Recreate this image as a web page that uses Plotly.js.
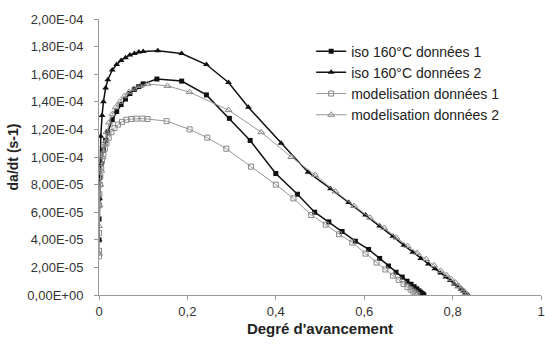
<!DOCTYPE html>
<html><head><meta charset="utf-8">
<script src="https://cdn.plot.ly/plotly-3.0.1.min.js"></script>
<style>html,body{margin:0;padding:0;background:#fff}#c{width:545px;height:345px}</style>
</head><body><div id="c"></div>
<script>
const names = ["iso 160°C données 1","iso 160°C données 2","modelisation données 1","modelisation données 2"];
const iso1X = [0,0,0,0.002,0.005,0.01,0.015,0.02,0.03,0.04,0.05,0.06,0.07,0.08,0.09,0.1,0.131,0.187,0.243,0.295,0.342,0.40,0.449,0.488,0.52,0.55,0.58,0.61,0.635,0.655,0.672,0.686,0.697,0.706,0.713,0.719,0.724,0.728,0.731,0.733,0.735];
const iso1Y = [4.0,5.5,7.0,8.5,9.5,10.5,11.2,11.8,12.7,13.3,13.8,14.2,14.6,14.9,15.1,15.3,15.65,15.5,14.5,12.8,11.2,8.8,7.3,6.0,5.3,4.6,3.9,3.3,2.65,2.1,1.65,1.3,1.0,0.78,0.6,0.45,0.3,0.2,0.1,0.05,0.0];
const iso2X = [0,0.001,0.002,0.004,0.007,0.01,0.015,0.02,0.03,0.04,0.05,0.06,0.07,0.08,0.09,0.1,0.133,0.187,0.243,0.293,0.338,0.412,0.473,0.524,0.565,0.603,0.635,0.665,0.69,0.71,0.728,0.745,0.76,0.773,0.785,0.795,0.804,0.812,0.819,0.825,0.829,0.832,0.835];
const iso2Y = [4,7,9.5,11.5,13,14,15,15.6,16.3,16.7,17,17.2,17.4,17.5,17.6,17.65,17.7,17.5,16.7,15.4,13.6,11.0,8.9,7.7,6.7,5.8,5.0,4.25,3.6,3.1,2.65,2.25,1.9,1.6,1.3,1.05,0.8,0.6,0.42,0.27,0.16,0.08,0];
const mod1X = [0,0,0,0,0,0.001,0.002,0.003,0.005,0.007,0.01,0.013,0.017,0.022,0.028,0.035,0.043,0.052,0.062,0.073,0.085,0.098,0.11,0.153,0.205,0.245,0.288,0.344,0.40,0.44,0.48,0.513,0.543,0.573,0.603,0.628,0.648,0.665,0.678,0.689,0.698,0.705,0.711,0.716,0.72];
const mod1Y = [2.8,3.2,4.5,5.5,6.5,7.3,8.0,8.6,9.2,9.7,10.2,10.6,11.0,11.4,11.8,12.1,12.35,12.55,12.7,12.75,12.78,12.78,12.75,12.6,12.0,11.4,10.6,9.3,8.0,7.0,5.8,5.1,4.4,3.8,3.0,2.35,1.85,1.4,1.1,0.8,0.57,0.4,0.25,0.12,0.0];
const mod2X = [0,0,0.001,0.003,0.005,0.008,0.012,0.017,0.023,0.03,0.038,0.047,0.057,0.068,0.08,0.093,0.11,0.155,0.205,0.293,0.367,0.435,0.489,0.535,0.577,0.613,0.645,0.673,0.698,0.72,0.74,0.758,0.773,0.786,0.797,0.806,0.814,0.82,0.825,0.829,0.832];
const mod2Y = [3.0,5.0,6.5,8.0,9.0,10.0,11.0,11.8,12.5,13.1,13.6,14.0,14.4,14.7,14.95,15.15,15.3,15.15,14.7,13.4,11.8,10.0,8.7,7.5,6.45,5.6,4.85,4.15,3.55,3.05,2.6,2.15,1.75,1.45,1.15,0.9,0.65,0.45,0.3,0.15,0.0];
const yTickVals = [0,2e-5,4e-5,6e-5,8e-5,1e-4,1.2e-4,1.4e-4,1.6e-4,1.8e-4,2e-4];
const yTickText = ["0,00E+00","2,00E-05","4,00E-05","6,00E-05","8,00E-05","1,00E-04","1,20E-04","1,40E-04","1,60E-04","1,80E-04","2,00E-04"];
const xTickVals = [0,0.2,0.4,0.6,0.8,1];
const xTickText = ["0","0,2","0,4","0,6","0,8","1"];

const sc = a => a.map(v => v*1e-5);
const traces = [
 {x:iso1X,y:sc(iso1Y),name:names[0],mode:"lines+markers",line:{color:"#111",width:1.5},marker:{symbol:"square",size:5,color:"#111"}},
 {x:iso2X,y:sc(iso2Y),name:names[1],mode:"lines+markers",line:{color:"#111",width:1.5},marker:{symbol:"triangle-up",size:6,color:"#111"}},
 {x:mod1X,y:sc(mod1Y),name:names[2],mode:"lines+markers",line:{color:"#999",width:1},marker:{symbol:"square-open",size:5,color:"#888"}},
 {x:mod2X,y:sc(mod2Y),name:names[3],mode:"lines+markers",line:{color:"#999",width:1},marker:{symbol:"triangle-up-open",size:6,color:"#888"}}
];
const layout = {
 width:545,height:345,margin:{l:99,r:4,t:19,b:50},
 paper_bgcolor:"#fff",plot_bgcolor:"#fff",
 font:{family:"Liberation Sans, Arial, sans-serif",size:13,color:"#333"},
 showlegend:true,
 legend:{x:0.48,y:0.94,xanchor:"left",yanchor:"top",bgcolor:"rgba(0,0,0,0)",itemwidth:30,font:{size:14,color:"#222"},tracegroupgap:0},
 xaxis:{range:[0,1],tickvals:xTickVals,ticktext:xTickText,showgrid:false,zeroline:false,showline:true,linecolor:"#999",linewidth:1,ticks:"outside",ticklen:4,tickcolor:"#999",ticklabeloverflow:"allow",
   title:{text:"Degré d'avancement",font:{size:15,color:"#222",weight:"bold"},standoff:5}},
 yaxis:{range:[0,2e-4],tickvals:yTickVals,ticktext:yTickText,showgrid:false,zeroline:false,showline:true,linecolor:"#999",linewidth:1,ticks:"outside",ticklen:4,tickcolor:"#999",ticklabelstandoff:8,
   title:{text:"da/dt (s-1)",font:{size:14,color:"#222",weight:"bold"},standoff:5}}
};
Plotly.newPlot("c",traces,layout,{displayModeBar:false,staticPlot:true});
</script></body></html>
